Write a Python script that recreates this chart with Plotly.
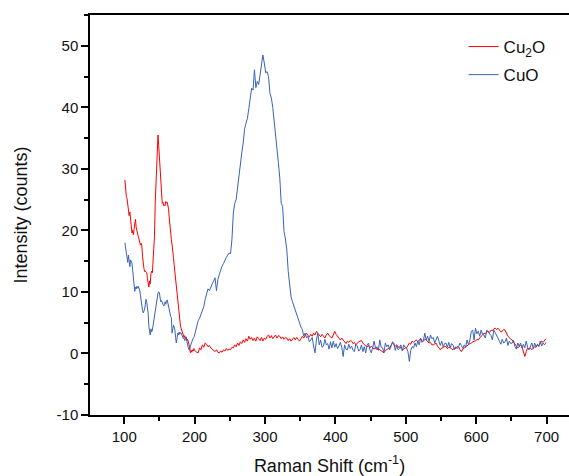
import plotly.graph_objects as go

# ---------------- data ----------------
# Dense part: 101..200 cm-1 (step 1); sparse part: 203..699 cm-1 (step 2)
shift_dense = list(range(101, 201))
shift_sparse = list(range(203, 700, 2))

cu2o_dense = [
    28.2, 26.5, 25.5, 25.2, 23.8, 23.5, 22.4, 23.0, 21.5, 20.6,
    19.6, 20.0, 19.3, 20.2, 21.5, 21.8, 20.5, 19.8, 19.6, 19.0,
    18.6, 17.7, 17.6, 17.9, 17.5, 15.8, 14.1, 13.8, 13.3, 13.4,
    13.2, 13.1, 12.2, 11.0, 10.8, 11.8, 11.3, 13.0, 13.4, 13.1,
    15.0, 15.2, 19.0, 24.4, 27.5, 30.5, 32.6, 35.5, 33.8, 32.0,
    28.5, 28.0, 26.0, 24.4, 24.6, 24.0, 24.1, 24.0, 24.7, 24.5,
    24.6, 24.2, 23.5, 22.0, 20.5, 19.6, 18.5, 17.6, 16.8, 15.6,
    14.3, 13.1, 12.0, 10.8, 9.8, 8.7, 7.6, 6.3, 5.4, 4.4,
    4.0, 3.6, 3.3, 3.0, 2.6, 2.9, 2.4, 2.5, 2.1, 2.3,
    2.0, 1.5, 0.8, 0.1, 0.5, 0.2, 0.6, 0.4, 0.8, 0.5,
]
cu2o_sparse = [
    0.2, 0.1, 0.9, 0.6, 1.4, 1.0, 1.7, 1.5, 1.1, 1.3,
    0.9, 0.7, 0.5, 0.3, 0.6, 0.2, 0.1, 0.4, 0.2, 0.6,
    0.4, 0.8, 0.5, 0.7, 0.6, 1.0, 0.9, 1.4, 1.1, 1.7,
    1.3, 1.9, 1.6, 2.2, 1.8, 2.4, 2.0, 2.8, 2.3, 2.6,
    2.1, 2.5, 2.0, 2.7, 2.4, 2.1, 2.6, 2.0, 2.5, 2.3,
    2.8, 3.0, 2.5, 2.9, 2.4, 2.8, 3.0, 2.5, 2.9, 2.8,
    2.4, 2.7, 2.3, 2.6, 2.5, 2.1, 2.4, 2.0, 2.3, 2.6,
    2.2, 2.6, 2.3, 2.0, 2.4, 2.8, 2.5, 3.0, 3.3, 2.9,
    2.7, 3.1, 2.8, 3.3, 3.0, 3.6, 3.2, 3.0, 2.7, 3.1,
    2.8, 2.5, 3.0, 3.3, 2.9, 2.6, 2.5, 3.0, 3.6, 3.1,
    2.8, 2.6, 2.2, 2.5, 2.2, 1.9, 1.6, 2.0, 1.8, 2.1,
    2.0, 1.6, 1.8, 1.4, 1.7, 1.9, 2.0, 2.1, 1.7, 1.4,
    1.2, 1.1, 1.3, 0.9, 1.2, 0.9, 0.7, 1.0, 0.6, 0.8,
    0.6, 0.4, 0.3, 0.1, 0.5, 0.6, 0.8, 0.9, 1.3, 1.7,
    1.5, 1.2, 1.4, 1.0, 1.1, 0.8, 0.6, 0.7, 0.9, 0.9,
    1.3, 1.7, 1.5, 2.0, 1.8, 2.1, 2.2, 1.9, 2.2, 2.4,
    2.0, 2.0, 2.3, 2.2, 1.9, 1.7, 1.8, 1.4, 1.4, 1.6,
    1.7, 1.2, 0.8, 0.6, 0.9, 0.9, 1.2, 1.1, 0.8, 1.0,
    0.9, 0.7, 0.6, 0.9, 0.8, 1.1, 1.1, 0.6, 0.3, 0.7,
    0.9, 1.1, 1.3, 1.4, 1.6, 1.7, 1.9, 2.0, 2.0, 2.3,
    2.2, 2.6, 2.8, 3.0, 3.3, 3.2, 3.5, 3.6, 3.4, 3.8,
    3.7, 4.0, 4.1, 3.9, 4.1, 3.8, 3.5, 3.6, 3.9, 3.8,
    3.2, 2.8, 2.6, 2.3, 2.2, 1.8, 1.4, 1.2, 0.9, 1.1,
    1.3, 1.1, 0.4, -0.5, 0.3, 0.9, 0.7, 0.9, 0.6, 0.8,
    1.1, 1.0, 1.4, 1.3, 1.6, 2.0, 1.8, 2.2, 2.4,
]

cuo_dense = [
    18.0, 16.5, 16.3, 15.7, 14.8, 16.0, 15.2, 14.1, 15.2, 15.0,
    14.7, 13.5, 12.5, 11.2, 10.1, 10.8, 10.5, 10.9, 10.6, 10.9,
    10.6, 10.3, 9.5, 8.4, 7.8, 7.0, 6.6, 6.9, 7.2, 8.0,
    8.8, 8.3, 7.7, 6.5, 4.4, 3.6, 3.0, 4.0, 3.5, 3.8,
    4.6, 5.6, 6.6, 7.2, 7.9, 8.4, 9.3, 9.8, 10.0, 9.9,
    9.0, 8.4, 8.6, 8.4, 8.0, 7.7, 7.9, 8.4, 8.0, 8.5,
    8.7, 8.2, 7.7, 6.9, 6.2, 6.0, 5.8, 3.3, 4.0, 4.6,
    4.3, 3.8, 2.6, 1.7, 2.4, 3.3, 3.0, 3.5, 3.1, 3.4,
    3.3, 2.9, 2.7, 2.4, 2.5, 2.1, 2.4, 2.7, 2.0, 1.1,
    0.9, 0.6, 0.6, 1.2, 1.7, 2.0, 2.2, 2.5, 2.6, 3.0,
]
cuo_sparse = [
    4.4, 5.3, 5.7, 6.3, 7.0, 7.6, 8.8, 9.9, 10.5, 10.2,
    10.9, 11.3, 11.8, 12.3, 10.2, 12.0, 12.8, 13.6, 14.2, 14.6,
    15.2, 15.6, 16.0, 16.3, 16.2, 18.5, 22.8, 24.4, 25.0, 27.1,
    28.8, 30.4, 32.6, 34.2, 36.5, 37.4, 38.2, 39.8, 41.2, 43.1,
    42.8, 46.1, 43.2, 44.2, 43.7, 45.6, 46.6, 48.5, 47.2, 45.6,
    45.8, 45.0, 42.3, 41.5, 40.0, 38.0, 35.5, 33.0, 31.0, 28.5,
    24.4, 23.9, 19.8, 18.6, 16.8, 13.3, 11.4, 9.2, 8.4, 7.7,
    7.0, 6.6, 5.8, 4.9, 4.3, 3.9, 2.8, 3.3, 2.5, 2.8,
    1.9, 2.2, 2.6, 1.2, 0.1, 2.2, 3.3, 1.4, 2.2, 1.0,
    1.2, 2.3, 1.4, 1.6, 0.7, 1.9, 0.9, 2.0, 1.0, 1.6,
    0.8, 1.2, 1.8, 1.0, -0.5, 1.4, 0.7, 0.6, 1.5, 0.8,
    1.2, 0.5, 0.3, 1.5, 1.2, 0.4, 0.6, 1.4, 0.3, 1.1,
    0.1, 1.3, 1.7, 0.6, 0.1, 1.0, 2.0, 0.8, 1.1, 0.5,
    2.2, 1.0, 0.9, 0.2, 1.7, 1.1, 1.4, 0.6, 1.1, 1.9,
    1.7, 0.5, 1.3, 0.6, 0.8, 1.4, 0.4, 1.4, 1.0, 0.9,
    0.3, -1.3, 0.5, 1.1, 0.9, 1.7, 1.1, 2.0, 1.4, 2.5,
    1.8, 2.1, 3.3, 2.2, 2.8, 1.9, 3.0, 2.4, 2.6, 1.7,
    2.3, 2.8, 2.0, 1.3, 2.0, 1.1, 1.6, 1.7, 1.0, 1.8,
    0.9, 1.6, 1.4, 0.6, 1.1, 0.8, 1.1, 1.7, 1.3, 0.8,
    1.4, 1.0, 2.2, 1.4, 2.2, 3.6, 3.8, 2.2, 4.1, 3.2,
    3.6, 2.8, 3.8, 3.1, 3.0, 2.5, 3.8, 3.5, 3.3, 2.9,
    2.2, 3.8, 3.4, 3.0, 2.6, 2.0, 1.5, 2.3, 1.7, 1.9,
    2.5, 1.3, 2.0, 1.6, 1.7, 2.1, 1.1, 0.7, 1.7, 1.2,
    1.7, 0.9, 1.5, 0.9, 2.0, 1.0, 0.6, 1.3, 1.7, 0.8,
    1.7, 1.1, 1.5, 1.1, 2.0, 1.2, 1.7, 1.4, 1.8,
]

series_names = ["Cu<sub>2</sub>O", "CuO"]
series_colors = ["#FF0000", "#3A62B8"]

x_ticks = [100, 200, 300, 400, 500, 600, 700]
x_ticklabels = ["100", "200", "300", "400", "500", "600", "700"]
y_ticks = [-10, 0, 10, 20, 30, 40, 50]
y_ticklabels = ["-10", "0", "10", "20", "30", "40", "50"]

shift = shift_dense + shift_sparse
cu2o = cu2o_dense + cu2o_sparse
cuo = cuo_dense + cuo_sparse

# ---------------- figure ----------------
fig = go.Figure()
for name, color, ys in zip(series_names, series_colors, [cu2o, cuo]):
    fig.add_trace(go.Scatter(
        x=shift, y=ys, mode="lines", name=name, legendgroup=name,
        line=dict(color=color, width=1),
    ))

font_family = "Liberation Sans, Arial, sans-serif"
axis_common = dict(
    showline=True, linecolor="black", linewidth=1.5,
    ticks="outside", ticklen=7, tickwidth=1.5, tickcolor="black",
    showgrid=False, zeroline=False,
    tickfont=dict(family=font_family, size=15, color="#111"),
)

fig.update_layout(
    width=569, height=476,
    margin=dict(l=90, r=0, t=15, b=61),
    paper_bgcolor="white", plot_bgcolor="white",
    font=dict(family=font_family, color="#111"),
    showlegend=True,
    legend=dict(
        x=0.78, y=0.965, xanchor="left", yanchor="top",
        bgcolor="rgba(0,0,0,0)", borderwidth=0,
        font=dict(family=font_family, size=17, color="#111"),
        tracegroupgap=3,
    ),
    xaxis=dict(
        **axis_common, mirror=True,
        range=[51.4, 731.8], tickvals=x_ticks, ticktext=x_ticklabels,
        minor=dict(dtick=50, ticks="outside", ticklen=4, tickwidth=1.5, tickcolor="black"),
        title=dict(text="Raman Shift (cm<sup>-1</sup>)", standoff=16,
                   font=dict(family=font_family, size=18, color="#111")),
    ),
    yaxis=dict(
        **axis_common, mirror=False,
        range=[-10, 55], tickvals=y_ticks, ticktext=y_ticklabels,
        minor=dict(dtick=5, ticks="outside", ticklen=4, tickwidth=1.5, tickcolor="black"),
        title=dict(text="Intensity (counts)", standoff=24,
                   font=dict(family=font_family, size=18, color="#111")),
    ),
)

fig.write_html(
    "out.html",
    config={"displayModeBar": False},
    post_script="document.body.style.margin='0px';document.body.style.overflow='hidden';",
)
